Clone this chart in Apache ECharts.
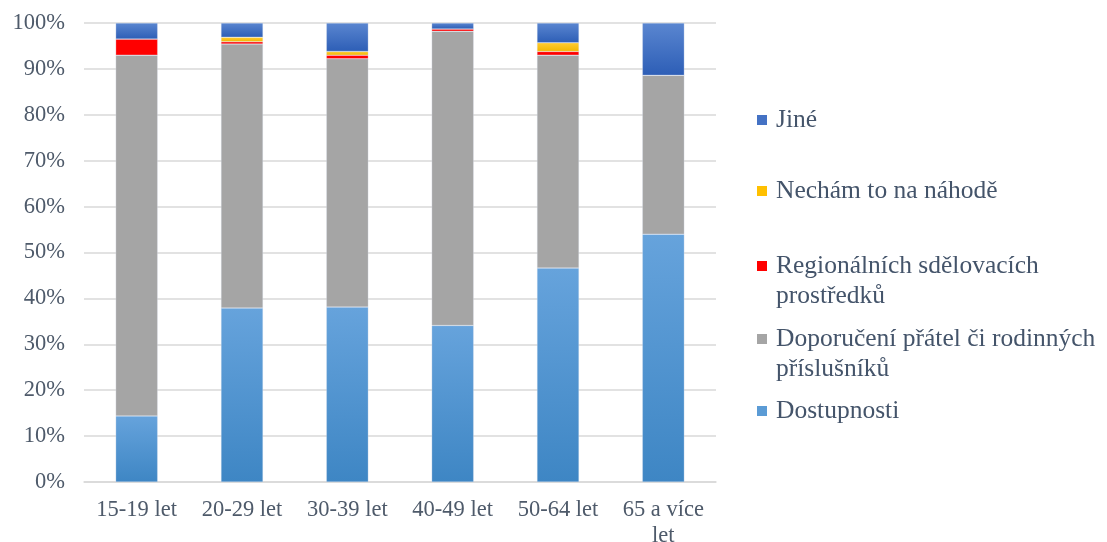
<!DOCTYPE html>
<html>
<head>
<meta charset="utf-8">
<script src="https://cdn.jsdelivr.net/npm/echarts@6/dist/echarts.min.js"></script>
<style>
  html, body { margin: 0; padding: 0; background: #ffffff; }
  #chart { width: 1107px; height: 542px; }
</style>
</head>
<body>
<div id="chart"></div>
<script>
// Age groups on the x axis
const categories = ['15-19 let', '20-29 let', '30-39 let', '40-49 let', '50-64 let', '65 a více\nlet'];

// Share of answers per age group (%), stacked bottom to top
const dostupnosti = [14.4, 37.9, 38.1, 34.1, 46.6, 54.0];
const doporuceni  = [78.6, 57.5, 54.1, 64.1, 46.4, 34.6];
const regionalni  = [3.5, 0.5, 0.8, 0.5, 0.8, 0.0];
const nechamTo    = [0.0, 1.0, 0.8, 0.0, 1.9, 0.0];
const jine        = [3.5, 3.1, 6.2, 1.3, 4.3, 11.4];

const yTicks = [0, 10, 20, 30, 40, 50, 60, 70, 80, 90, 100];

const seriesNames = {
  dost: 'Dostupnosti',
  dop: 'Doporučení přátel či rodinných\npříslušníků',
  reg: 'Regionálních sdělovacích\nprostředků',
  nech: 'Nechám to na náhodě',
  jine: 'Jiné'
};

const font = 'Liberation Serif, "Times New Roman", serif';

function grad(top, bottom) {
  return new echarts.graphic.LinearGradient(0, 0, 0, 1, [
    { offset: 0, color: top }, { offset: 1, color: bottom }
  ]);
}

const colors = {
  dost: grad('#66a3dc', '#3e86c4'),
  dop: '#a5a5a5',
  reg: '#ff0000',
  nech: grad('#ffcc33', '#f2b600'),
  jine: grad('#5a86d0', '#2d5eb6')
};
const legendColors = { dost: '#5b9bd5', dop: '#a5a5a5', reg: '#ff0000', nech: '#ffc000', jine: '#4472c4' };

function bar(key, data) {
  return {
    name: seriesNames[key],
    type: 'bar',
    stack: 'total',
    barWidth: 42,
    data: data,
    itemStyle: { color: colors[key], borderColor: 'rgba(220,228,240,0.6)', borderWidth: 0.5 }
  };
}

// Square marker; for two-line entries the marker sits next to the first line
// (the path carries an empty point below the square so it lines up with line one).
const squareIcon = 'path://M0,0 L10,0 L10,10 L0,10 Z';
const squareTopIcon = 'path://M0,0 L10,0 L10,10 L0,10 Z M0,40 L0,40';

// One legend block per entry so each sits at its own height
const legendRows = [
  { key: 'jine', top: 100, multi: false },
  { key: 'nech', top: 171, multi: false },
  { key: 'reg', top: 246, multi: true },
  { key: 'dop', top: 319, multi: true },
  { key: 'dost', top: 391, multi: false }
];

const legends = legendRows.map(r => ({
  orient: 'vertical',
  left: 752,
  top: r.top,
  itemWidth: 10,
  itemHeight: r.multi ? 40 : 10,
  itemGap: 0,
  icon: r.multi ? squareTopIcon : squareIcon,
  selectedMode: false,
  data: [{ name: seriesNames[r.key], itemStyle: { color: legendColors[r.key], borderWidth: 0 } }],
  textStyle: {
    fontFamily: font,
    fontSize: 25.5,
    color: '#44546a',
    lineHeight: 30,
    padding: [0, 0, 0, 4]
  }
}));

const chart = echarts.init(document.getElementById('chart'), null, { renderer: 'canvas' });
chart.setOption({
  animation: false,
  backgroundColor: '#ffffff',
  legend: legends,
  grid: { left: 84, right: 391, top: 23, bottom: 60, containLabel: false, outerBoundsMode: 'none' },
  xAxis: {
    type: 'category',
    data: categories,
    axisLine: { lineStyle: { color: '#d9d9d9', width: 1.5 } },
    axisTick: { show: false },
    axisLabel: {
      fontFamily: font, fontSize: 22.5, color: '#4e5a6a',
      margin: 15, lineHeight: 26, interval: 0
    }
  },
  yAxis: {
    type: 'value',
    min: yTicks[0],
    max: yTicks[yTicks.length - 1],
    interval: 10,
    axisLine: { show: false },
    axisTick: { show: false },
    splitLine: { lineStyle: { color: '#d9d9d9', width: 1.5 } },
    axisLabel: {
      fontFamily: font, fontSize: 22.5, color: '#4e5a6a', margin: 19,
      formatter: v => v + '%'
    }
  },
  series: [
    bar('dost', dostupnosti),
    bar('dop', doporuceni),
    bar('reg', regionalni),
    bar('nech', nechamTo),
    bar('jine', jine)
  ]
});
</script>
</body>
</html>
